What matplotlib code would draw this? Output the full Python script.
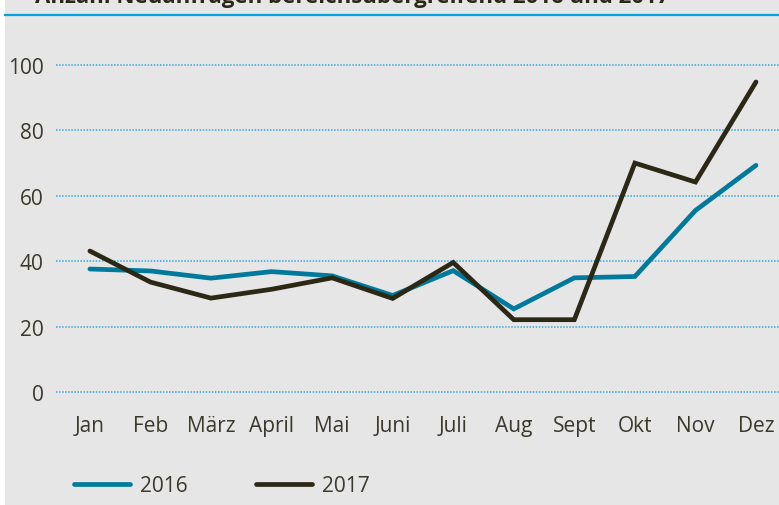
"""Monthly new requests 2016 vs 2017 as a line chart."""

import matplotlib

matplotlib.use("Agg")
import matplotlib.pyplot as plt
from matplotlib.lines import Line2D
from matplotlib.patches import Rectangle

MONTHS = ["Jan", "Feb", "März", "April", "Mai", "Juni",
          "Juli", "Aug", "Sept", "Okt", "Nov", "Dez"]
REQUESTS_2016 = [37.6, 37.0, 34.8, 36.8, 35.5, 29.5, 37.1, 25.4, 34.9, 35.3, 55.5, 69.3]
REQUESTS_2017 = [43.1, 33.6, 28.7, 31.4, 34.9, 28.6, 39.6, 22.1, 22.1, 70.0, 64.2, 94.8]
Y_TICKS = [0, 20, 40, 60, 80, 100]
TITLE = "Anzahl Neuanfragen bereichsübergreifend 2016 und 2017"

BACKGROUND = "#e6e6e6"
GRID_COLOR = "#3aa7dc"
TEXT_COLOR = "#3b382c"
SERIES_COLORS = ("#007a9c", "#2c2816")

plt.rcParams["font.family"] = ["Open Sans", "DejaVu Sans"]

figure = plt.figure(figsize=(7.79, 5.06), dpi=100, facecolor="white")
figure.patches.append(
    Rectangle((5 / 779, 0), 1, 1, transform=figure.transFigure,
              facecolor=BACKGROUND, edgecolor="none", zorder=-10)
)
figure.lines.append(
    Line2D([5 / 779, 1], [1 - 15.5 / 506] * 2, transform=figure.transFigure,
           color="#00a3e0", linewidth=1.6)
)
figure.text(35 / 779, 1 - 3 / 506, TITLE, fontsize=16, fontweight="bold",
            color="#2c2816", va="baseline", ha="left")

axis = figure.add_axes([56 / 779, 1 - 399.5 / 506, 723 / 779, 359.7 / 506])
axis.set_facecolor("none")

x_values = range(len(MONTHS))
for values, color, name in (
    (REQUESTS_2016, SERIES_COLORS[0], "2016"),
    (REQUESTS_2017, SERIES_COLORS[1], "2017"),
):
    axis.plot(x_values, values, color=color, linewidth=3.4,
              solid_capstyle="round", solid_joinstyle="miter", label=name)

axis.set_xlim(-0.56, 11.38)
axis.set_ylim(-2, 108)
axis.set_yticks(Y_TICKS)
axis.set_xticks(list(x_values))
axis.set_xticklabels(MONTHS)
for value in Y_TICKS:
    axis.axhline(value, color=GRID_COLOR, linestyle=(0, (1, 1)),
                 linewidth=1.1, zorder=0)

for spine in axis.spines.values():
    spine.set_visible(False)
axis.tick_params(axis="both", length=0, labelsize=15, colors=TEXT_COLOR)
axis.tick_params(axis="y", pad=9)
axis.tick_params(axis="x", pad=12)

figure.legend(
    loc="center left",
    bbox_to_anchor=(66 / 779, 1 - 487 / 506),
    borderaxespad=0,
    ncol=2,
    frameon=False,
    fontsize=15,
    labelcolor=TEXT_COLOR,
    handlelength=2.65,
    handletextpad=0.5,
    columnspacing=3.3,
)

figure.savefig("out.png", dpi=100, facecolor=figure.get_facecolor())
